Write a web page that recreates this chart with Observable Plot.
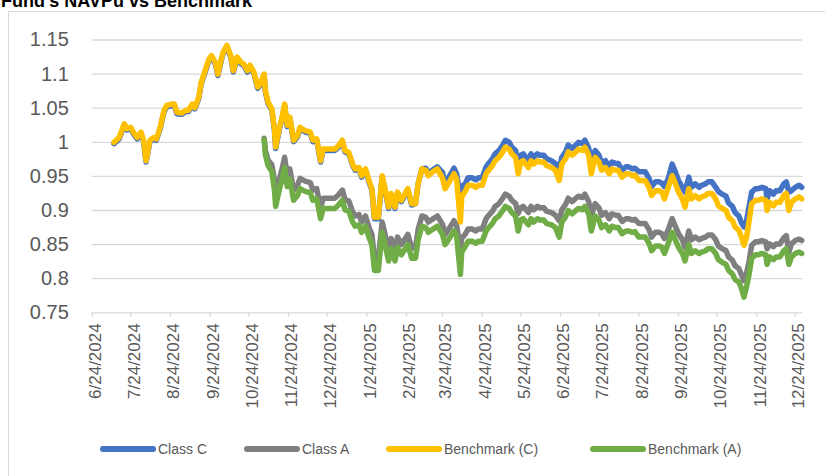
<!DOCTYPE html>
<html><head><meta charset="utf-8">
<script src="https://cdn.jsdelivr.net/npm/d3@7"></script>
<script src="https://cdn.jsdelivr.net/npm/@observablehq/plot@0.6"></script>
<style>
body{margin:0;background:#fff;}
#wrap{position:relative;width:825px;height:476px;overflow:hidden;background:#fff;font-family:"Liberation Sans",Arial,sans-serif;}
#frame{position:absolute;left:8px;top:11px;width:830px;height:480px;border:1px solid #d9d9d9;box-sizing:border-box;}
#title{position:absolute;left:1px;top:-8px;font-weight:bold;font-size:18px;line-height:18px;color:#000;white-space:nowrap;}
#chart{position:absolute;left:0;top:0;}
.item{position:absolute;top:440px;display:flex;align-items:center;height:18px;}
.sw{width:56px;height:6px;border-radius:3px;}
.lab{margin-left:2px;font-size:14px;color:#595959;white-space:nowrap;}
</style></head>
<body>
<div id="wrap">
  <div id="frame"></div>
  <div id="title">Fund's NAVPu vs Benchmark</div>
  <div id="chart"></div>
  <div id="legend"></div>
</div>
<script>
// ---- data ----
const dates = [
"2024-07-11","2024-07-15","2024-07-19","2024-07-21","2024-07-24","2024-07-26","2024-07-29","2024-08-01","2024-08-03","2024-08-05",
"2024-08-08","2024-08-11","2024-08-13","2024-08-16","2024-08-19","2024-08-21","2024-08-25","2024-08-27","2024-08-29","2024-09-02",
"2024-09-05","2024-09-07","2024-09-10","2024-09-12","2024-09-15","2024-09-17","2024-09-20","2024-09-23","2024-09-25","2024-09-28",
"2024-09-30","2024-10-02","2024-10-04","2024-10-07","2024-10-10","2024-10-12","2024-10-15","2024-10-18","2024-10-20","2024-10-23",
"2024-10-25","2024-10-28","2024-10-31","2024-11-02","2024-11-05","2024-11-06","2024-11-08","2024-11-11","2024-11-13","2024-11-14",
"2024-11-17","2024-11-19","2024-11-21","2024-11-23","2024-11-25","2024-11-28","2024-12-01","2024-12-03","2024-12-07","2024-12-11",
"2024-12-13","2024-12-16","2024-12-19","2024-12-21","2024-12-25","2024-12-30","2025-01-02","2025-01-05","2025-01-07","2025-01-10",
"2025-01-13","2025-01-15","2025-01-18","2025-01-20","2025-01-23","2025-01-26","2025-01-28","2025-01-30","2025-02-02","2025-02-05",
"2025-02-07","2025-02-10","2025-02-12","2025-02-15","2025-02-17","2025-02-20","2025-02-22","2025-02-25","2025-02-28","2025-03-03",
"2025-03-05","2025-03-08","2025-03-11","2025-03-13","2025-03-16","2025-03-20","2025-03-24","2025-03-26","2025-03-30","2025-04-02",
"2025-04-04","2025-04-07","2025-04-08","2025-04-11","2025-04-13","2025-04-16","2025-04-19","2025-04-21","2025-04-24","2025-04-27",
"2025-04-29","2025-05-02","2025-05-04","2025-05-07","2025-05-10","2025-05-12","2025-05-15","2025-05-17","2025-05-20","2025-05-22",
"2025-05-24","2025-05-26","2025-05-30","2025-06-01","2025-06-03","2025-06-06","2025-06-08","2025-06-11","2025-06-13","2025-06-17",
"2025-06-20","2025-06-23","2025-06-25","2025-06-28","2025-06-30","2025-07-03","2025-07-06","2025-07-08","2025-07-11","2025-07-13",
"2025-07-16","2025-07-18","2025-07-21","2025-07-24","2025-07-26","2025-07-29","2025-08-01","2025-08-03","2025-08-06","2025-08-08",
"2025-08-11","2025-08-14","2025-08-16","2025-08-19","2025-08-21","2025-08-24",
"2025-08-29","2025-09-01","2025-09-03","2025-09-06","2025-09-09","2025-09-11","2025-09-13","2025-09-16","2025-09-19","2025-09-21",
"2025-09-24","2025-09-27","2025-09-29","2025-10-02","2025-10-04","2025-10-07","2025-10-10","2025-10-12","2025-10-15","2025-10-17",
"2025-10-20","2025-10-23","2025-10-25","2025-10-28","2025-10-31","2025-11-02","2025-11-05","2025-11-07","2025-11-10","2025-11-12",
"2025-11-14","2025-11-16","2025-11-18","2025-11-20","2025-11-23","2025-11-25","2025-11-28","2025-12-01","2025-12-02","2025-12-04",
"2025-12-07","2025-12-09","2025-12-12","2025-12-15","2025-12-17","2025-12-19","2025-12-21","2025-12-24","2025-12-27","2025-12-29"
];

const classC = [
0.998,1.005,1.025,1.018,1.020,1.013,1.005,1.013,1.001,0.971,
1.001,1.005,1.003,1.020,1.045,1.052,1.054,1.054,1.042,1.041,
1.045,1.045,1.054,1.049,1.064,1.086,1.103,1.120,1.125,1.115,
1.098,1.115,1.130,1.140,1.125,1.103,1.123,1.115,1.113,1.103,
1.111,1.101,1.079,1.084,1.098,1.074,1.057,1.047,1.018,0.991,
1.020,1.035,1.054,1.023,1.035,1.001,1.008,1.020,1.015,1.013,
1.001,1.003,0.971,0.988,0.988,0.988,0.993,1.001,0.986,0.983,
0.966,0.959,0.961,0.949,0.959,0.940,0.930,0.888,0.888,0.949,
0.932,0.903,0.923,0.903,0.925,0.913,0.920,0.930,0.908,0.910,
0.939,0.961,0.962,0.954,0.959,0.964,0.956,0.940,0.952,0.962,
0.954,0.918,0.935,0.940,0.948,0.948,0.945,0.948,0.948,0.964,
0.969,0.976,0.983,0.988,0.996,1.003,1.000,0.993,0.988,0.968,
0.981,0.983,0.973,0.983,0.978,0.983,0.981,0.981,0.976,0.973,
0.969,0.959,0.978,0.986,0.996,0.991,0.996,1.000,0.998,1.003,
0.991,0.972,0.988,0.981,0.969,0.973,0.964,0.971,0.969,0.969,
0.959,0.964,0.964,0.961,0.962,0.957,
0.957,0.947,0.935,0.942,0.942,0.940,0.935,0.947,0.968,0.959,
0.944,0.934,0.927,0.949,0.934,0.939,0.934,0.937,0.939,0.942,
0.942,0.934,0.928,0.924,0.921,0.911,0.906,0.897,0.892,0.882,
0.876,0.885,0.906,0.927,0.932,0.932,0.934,0.932,0.917,0.929,
0.924,0.929,0.929,0.939,0.942,0.927,0.929,0.934,0.937,0.934
];

const benchmarkC = [
1.000,1.007,1.027,1.020,1.022,1.015,1.007,1.015,1.003,0.973,
1.003,1.007,1.005,1.022,1.047,1.054,1.056,1.056,1.044,1.043,
1.047,1.047,1.056,1.051,1.066,1.088,1.105,1.122,1.127,1.117,
1.100,1.117,1.132,1.142,1.127,1.105,1.125,1.117,1.115,1.105,
1.113,1.103,1.081,1.086,1.100,1.076,1.059,1.049,1.020,0.993,
1.022,1.037,1.056,1.025,1.037,1.003,1.010,1.022,1.017,1.015,
1.003,1.005,0.973,0.990,0.990,0.990,0.995,1.003,0.988,0.985,
0.968,0.961,0.963,0.951,0.961,0.942,0.932,0.890,0.890,0.951,
0.934,0.905,0.925,0.905,0.927,0.915,0.922,0.932,0.910,0.910,
0.939,0.961,0.959,0.951,0.956,0.961,0.948,0.932,0.944,0.954,
0.946,0.883,0.920,0.929,0.937,0.937,0.934,0.937,0.937,0.954,
0.959,0.966,0.973,0.978,0.986,0.993,0.990,0.983,0.978,0.954,
0.971,0.973,0.963,0.973,0.968,0.973,0.971,0.971,0.966,0.963,
0.959,0.944,0.968,0.976,0.986,0.981,0.986,0.990,0.988,0.993,
0.981,0.954,0.978,0.971,0.959,0.963,0.954,0.961,0.959,0.959,
0.949,0.954,0.954,0.951,0.952,0.944,
0.944,0.934,0.922,0.929,0.929,0.927,0.917,0.934,0.951,0.942,
0.927,0.917,0.905,0.932,0.917,0.922,0.917,0.920,0.922,0.925,
0.925,0.917,0.907,0.903,0.900,0.890,0.885,0.876,0.871,0.861,
0.849,0.861,0.885,0.910,0.915,0.915,0.917,0.915,0.900,0.912,
0.907,0.912,0.912,0.922,0.925,0.900,0.912,0.917,0.920,0.917
];

// Class A and Benchmark (A) begin on this date
const aStart = "2024-11-05";

const classA = [
1.006,0.988,0.974,0.967,0.945,0.928,
0.947,0.961,0.978,0.950,0.961,0.930,0.937,0.947,0.943,0.941,
0.930,0.932,0.903,0.918,0.918,0.918,0.923,0.930,0.916,0.914,
0.898,0.892,0.894,0.883,0.892,0.874,0.865,0.829,0.829,0.883,
0.867,0.841,0.859,0.841,0.861,0.850,0.856,0.865,0.845,0.845,
0.872,0.892,0.890,0.883,0.887,0.892,0.880,0.865,0.876,0.885,
0.878,0.844,0.859,0.866,0.873,0.873,0.870,0.873,0.873,0.888,
0.893,0.899,0.906,0.910,0.918,0.924,0.921,0.915,0.910,0.896,
0.904,0.906,0.897,0.906,0.901,0.906,0.904,0.904,0.899,0.897,
0.893,0.885,0.901,0.909,0.918,0.913,0.918,0.921,0.919,0.924,
0.913,0.893,0.910,0.904,0.893,0.897,0.888,0.895,0.893,0.893,
0.884,0.888,0.888,0.886,0.887,0.881,
0.881,0.872,0.861,0.868,0.868,0.866,0.859,0.872,0.888,0.879,
0.866,0.857,0.846,0.870,0.857,0.861,0.857,0.859,0.861,0.864,
0.864,0.857,0.848,0.844,0.841,0.832,0.827,0.819,0.815,0.806,
0.797,0.808,0.826,0.849,0.854,0.854,0.856,0.854,0.844,0.851,
0.847,0.851,0.851,0.860,0.863,0.839,0.851,0.856,0.858,0.856
];

const benchmarkA = [
1.004,0.982,0.966,0.957,0.931,0.906,
0.932,0.946,0.963,0.935,0.946,0.915,0.922,0.932,0.928,0.926,
0.915,0.917,0.888,0.903,0.903,0.903,0.908,0.915,0.901,0.899,
0.883,0.877,0.879,0.868,0.877,0.859,0.850,0.812,0.812,0.868,
0.852,0.826,0.844,0.826,0.846,0.835,0.841,0.850,0.830,0.830,
0.857,0.877,0.875,0.868,0.872,0.877,0.865,0.850,0.861,0.870,
0.863,0.806,0.839,0.848,0.855,0.855,0.852,0.855,0.855,0.870,
0.875,0.881,0.888,0.892,0.900,0.906,0.903,0.897,0.892,0.870,
0.886,0.888,0.879,0.888,0.883,0.888,0.886,0.886,0.881,0.879,
0.875,0.861,0.883,0.891,0.900,0.895,0.900,0.903,0.901,0.906,
0.895,0.870,0.892,0.886,0.875,0.879,0.870,0.877,0.875,0.875,
0.866,0.870,0.870,0.868,0.869,0.861,
0.861,0.852,0.841,0.848,0.848,0.846,0.837,0.852,0.868,0.859,
0.846,0.837,0.826,0.850,0.837,0.841,0.837,0.839,0.841,0.844,
0.844,0.837,0.828,0.824,0.821,0.812,0.807,0.799,0.795,0.786,
0.773,0.788,0.807,0.830,0.835,0.835,0.837,0.835,0.821,0.832,
0.828,0.832,0.832,0.841,0.844,0.821,0.832,0.837,0.839,0.837
];

const xTickDates = ["2024-06-24","2024-07-24","2024-08-24","2024-09-24","2024-10-24","2024-11-24","2024-12-24",
  "2025-01-24","2025-02-24","2025-03-24","2025-04-24","2025-05-24","2025-06-24","2025-07-24","2025-08-24",
  "2025-09-24","2025-10-24","2025-11-24","2025-12-24"];
const xDomain = ["2024-06-24","2025-12-30"];
const yTicks = [0.75,0.8,0.85,0.9,0.95,1,1.05,1.1,1.15];
const yDomain = [0.75,1.15];

const seriesNames = ["Class C","Class A","Benchmark (C)","Benchmark (A)"];
const seriesColors = ["#4472C4","#7F7F7F","#FFC000","#70AD47"];

// ---- build ----
const datesA = dates.slice(dates.indexOf(aStart));
if (classC.length !== dates.length || benchmarkC.length !== dates.length ||
    classA.length !== datesA.length || benchmarkA.length !== datesA.length) {
  throw new Error(`length mismatch: dates ${dates.length} C ${classC.length} BC ${benchmarkC.length} datesA ${datesA.length} A ${classA.length} BA ${benchmarkA.length}`);
}
const toRows = (ds, vs) => ds.map((d, i) => ({date: new Date(d), v: vs[i]}));
const seriesRows = [
  toRows(dates, classC),
  toRows(datesA, classA),
  toRows(dates, benchmarkC),
  toRows(datesA, benchmarkA)
];

const fmtDate = d => `${d.getUTCMonth() + 1}/${d.getUTCDate()}/${d.getUTCFullYear()}`;
const fmtY = d => String(Math.round(d * 100) / 100);
const xTicks = xTickDates.map(s => new Date(s));

const chart = Plot.plot({
  width: 825,
  height: 410,
  marginLeft: 91.7,
  marginRight: 22.5,
  marginTop: 39.5,
  marginBottom: 97.7,
  style: {background: "transparent", fontFamily: "'Liberation Sans', Arial, sans-serif", overflow: "visible"},
  x: {type: "utc", domain: xDomain.map(s => new Date(s))},
  y: {domain: yDomain},
  marks: [
    Plot.gridY(yTicks, {stroke: "#d9d9d9", strokeOpacity: 1, strokeWidth: 1.3}),
    Plot.axisX(xTicks, {tickSize: 4.5, stroke: "#d9d9d9", strokeWidth: 1.3, tickFormat: () => "", label: null}),
    Plot.axisX(xTicks, {tickSize: 0, tickPadding: 10.5, tickRotate: -90, tickFormat: fmtDate,
      fontSize: 17, fill: "#595959", dx: 3.5, label: null}),
    Plot.axisY(yTicks, {tickSize: 0, tickPadding: 23.4, tickFormat: fmtY, fontSize: 20, fill: "#595959", label: null}),
    ...seriesRows.map((rows, i) => Plot.line(rows, {
      x: "date", y: "v", stroke: seriesColors[i], strokeWidth: 5.5,
      strokeLinecap: "round", strokeLinejoin: "round"
    }))
  ]
});
document.getElementById("chart").appendChild(chart);

// legend
const legendLefts = [100, 244, 386, 590];
const legend = document.getElementById("legend");
seriesNames.forEach((name, i) => {
  const item = document.createElement("div");
  item.className = "item";
  item.style.left = legendLefts[i] + "px";
  item.innerHTML = `<span class="sw" style="background:${seriesColors[i]}"></span><span class="lab">${name}</span>`;
  legend.appendChild(item);
});
</script>
</body></html>
